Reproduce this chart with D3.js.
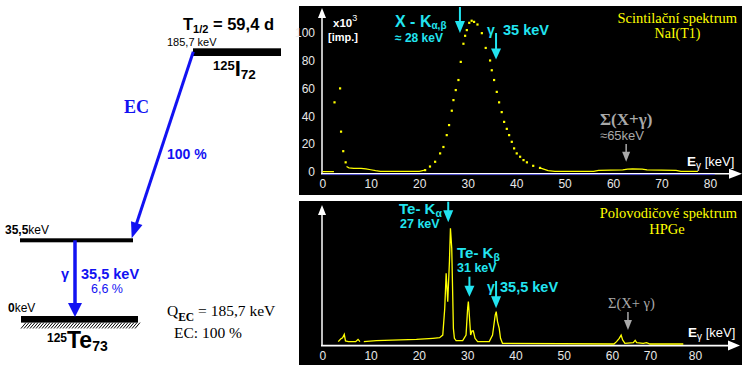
<!DOCTYPE html>
<html>
<head>
<meta charset="utf-8">
<script src="https://cdn.jsdelivr.net/npm/d3@7"></script>
<style>
  body { margin: 0; background: #fff; }
  svg { display: block; }
</style>
</head>
<body>
<script>
// ---- data ----
const energyTicks = [0, 10, 20, 30, 40, 50, 60, 70, 80];
const naiTicksY = [0, 20, 40, 60, 80, 100];

// NaI(Tl) spectrum, single channels shown as dots (keV, counts x10^3)
const naiDotE = [2.5, 3.65, 3.85, 4.3, 4.8, 21.2, 22.2, 23.26, 24.29, 24.97, 25.66, 26.14, 26.7, 27.04, 27.52,
  28.07, 28.55, 29.1, 29.45, 29.8, 30.3, 30.8, 31.3, 32.0, 32.9, 33.7, 34.6, 34.95, 35.43, 35.98, 36.46, 37.0,
  37.5, 38.05, 38.53, 39.08, 39.56, 40.1, 40.8, 41.5, 42.2, 43.5, 44.9];
const naiDotV = [50, 60, 29, 15, 7, 1.4, 4, 7.4, 13.4, 18, 26.5, 33.7, 44, 51.6, 58.8,
  66, 79, 92, 97.7, 101.8, 107, 108.5, 107.7, 105.8, 99.6, 89, 80, 73, 66, 57.5, 50, 43,
  36, 31, 26.5, 21.7, 17, 13.4, 11, 8.6, 7, 4.5, 3];
// NaI(Tl) spectrum, low parts that merge into a line
const naiLineE = [0, 2.4, null, 5.0, 5.5, 6.5, 8, 9, 10, 11, 12, 20, 21.2, null,
  44.9, 46.6, 48, 56, 57, 62, 63, 64, 66, 67, 73, 74, 77.5];
const naiLineV = [0.3, 0.3, null, 4, 3, 2.6, 2.6, 2.2, 1.6, 1, 0.5, 0.5, 1.4, null,
  3, 1, 0.5, 0.5, 1.2, 1.5, 2, 2.2, 2, 1.5, 1.2, 0.5, 0.5];

// HPGe spectrum (keV, relative counts)
const hpgeE = [3.3, 3.8, 4.2, 4.55, 4.8, 5.4, 6.9, 7.4, 7.8, null, 8.6, 11.2, 19.5, 22.9, 24.3,
  24.95, 25.36, 25.65, 25.98, 26.33, 26.54, 26.81, 27.01, 27.15, 27.36, 27.71, 29.08, 29.77, 30.1, 30.25,
  30.45, 30.72, 31.0, 31.28, 31.63, 32.17, 34.58, 35.26, 35.81, 36.02, 36.29, 36.64, 36.91, 37.32, 60.5,
  61.2, 61.9, 62.4, 62.8, 63.4, 65.6, 66.1, 66.5, 68.2, 69.1, 70, 77.4];
const hpgeV = [2.4, 4.3, 5.2, 7.6, 2.9, 2.4, 2.4, 4.0, 2.4, null, 2.4, 3.1, 4.0, 4.8, 5.2,
  7.1, 26.2, 51.2, 31, 59.5, 83.3, 69, 35.7, 11.9, 4.8, 3.1, 3.1, 7.1, 26.2, 31,
  21.4, 7.1, 10, 10, 4.8, 2.4, 2.4, 7.1, 21.4, 23.8, 16.7, 11.9, 4.8, 1.2, 0.7,
  2.4, 4.8, 7.1, 3.6, 1.2, 1.7, 3.3, 1.7, 1.2, 1.7, 0.7, 0.7];

// decay scheme levels (keV)
const levelE = [185.7, 35.5, 0];
const levelLabel = ["185,7 keV", "35,5", "0"];

// peak markers (keV)
const naiMarks = [28.4, 35.85];
const naiSumMark = 62.7;
const hpgeMarks = [26.08, 30.47, 35.99];
const hpgeSumMark = 64.2;

// ---- setup ----
const SANS = "'Liberation Sans', Arial, sans-serif";
const NARROW = "'Liberation Sans Narrow', 'Liberation Sans', Arial, sans-serif";
const SERIF = "'Liberation Serif', 'Times New Roman', serif";
const CYAN = "#22e4f0", BLUE = "#1212f2", YEL = "#ffff00", GREY = "#a9a9a9";

const svg = d3.select("body").append("svg")
    .attr("width", 746)
    .attr("height", 370);

// rich text helper: parts are tspans with optional size / weight / baseline shift
function label(parent, x, y, parts, o) {
  const t = parent.append("text")
    .attr("x", x).attr("y", y)
    .attr("fill", o.fill || "#000")
    .attr("font-family", o.family || SANS)
    .attr("font-weight", o.weight || "normal")
    .attr("font-size", o.size)
    .attr("text-anchor", o.anchor || "start");
  let shift = 0;
  parts.forEach(p => {
    const s = t.append("tspan").text(p.t);
    const d = p.dy || 0;
    s.attr("dy", d - shift); shift = d;
    if (p.size) s.attr("font-size", p.size);
    if (p.weight) s.attr("font-weight", p.weight);
    if (p.family) s.attr("font-family", p.family);
  });
  return t;
}

function arrow(parent, x1, y1, x2, y2, color, lw, headL, headW) {
  const dx = x2 - x1, dy = y2 - y1, L = Math.hypot(dx, dy), ux = dx / L, uy = dy / L;
  const bx = x2 - ux * headL, by = y2 - uy * headL;
  parent.append("line")
    .attr("x1", x1).attr("y1", y1).attr("x2", bx + ux).attr("y2", by + uy)
    .attr("stroke", color).attr("stroke-width", lw);
  parent.append("path")
    .attr("d", `M${x2},${y2}L${bx - uy * headW / 2},${by + ux * headW / 2}L${bx + uy * headW / 2},${by - ux * headW / 2}Z`)
    .attr("fill", color);
}

// ---- decay scheme ----
const yLevel = d3.scaleLinear().domain([0, 35.5, 185.7]).range([316, 238.3, 48.3]);
const scheme = svg.append("g");

// levels
scheme.append("rect").attr("x", 193).attr("y", yLevel(levelE[0])).attr("width", 88).attr("height", 7.7).attr("fill", "#000");
scheme.append("rect").attr("x", 20).attr("y", yLevel(levelE[1])).attr("width", 113).attr("height", 4).attr("fill", "#000");
scheme.append("rect").attr("x", 21).attr("y", yLevel(levelE[2])).attr("width", 117).attr("height", 6.6).attr("fill", "#000");
// hatching under ground state
scheme.append("g").selectAll("line")
  .data(d3.range(21, 138, 3))
  .join("line")
    .attr("x1", d => d).attr("y1", yLevel(0) + 12.5)
    .attr("x2", d => d + 5).attr("y2", yLevel(0) + 6.6)
    .attr("stroke", "#000").attr("stroke-width", 1);

label(scheme, 183, 30, [{ t: "T" }, { t: "1/2", size: 11, dy: 3 }, { t: " = 59,4 d" }], { weight: "bold", size: 16.5 });
label(scheme, 167, yLevel(levelE[0]) - 2.5, [{ t: levelLabel[0] }], { size: 11 });
label(scheme, 213, 76, [{ t: "125", size: 13, dy: -6 }, { t: "I", size: 22 }, { t: "72", size: 13.5, dy: 3 }], { weight: "bold", size: 22 });

label(scheme, 5, yLevel(levelE[1]) - 4, [{ t: levelLabel[1], weight: "bold" }, { t: "keV" }], { size: 12 });
label(scheme, 8, yLevel(levelE[2]) - 4.5, [{ t: levelLabel[2], weight: "bold" }, { t: "keV" }], { size: 12 });
label(scheme, 47, 348, [{ t: "125", size: 12, dy: -6.5 }, { t: "Te", size: 23 }, { t: "73", size: 14, dy: 3 }], { weight: "bold", size: 23 });

// EC branch
arrow(scheme, 193.3, yLevel(185.7) + 3.4, 131.7, yLevel(35.5), BLUE, 3, 16, 12);
label(scheme, 124, 113, [{ t: "EC" }], { fill: BLUE, family: SERIF, weight: "bold", size: 18 });
label(scheme, 167, 159, [{ t: "100 %" }], { fill: BLUE, weight: "bold", size: 14 });

// gamma transition
arrow(scheme, 75, yLevel(35.5) + 2, 75, yLevel(0) + 1, BLUE, 3.5, 14, 14);
label(scheme, 61, 279, [{ t: "γ" }], { fill: BLUE, weight: "bold", size: 14.5 });
label(scheme, 81, 279, [{ t: "35,5 keV" }], { fill: BLUE, weight: "bold", size: 14.5 });
label(scheme, 91, 293, [{ t: "6,6 %" }], { fill: BLUE, size: 12.5 });

label(scheme, 167, 316, [{ t: "Q" }, { t: "EC", size: 11.5, weight: "bold", dy: 4.5 }, { t: " = 185,7 keV" }], { family: SERIF, size: 15.5 });
label(scheme, 174, 338, [{ t: "EC: 100 %" }], { family: SERIF, size: 15.5 });

// ---- panels ----
svg.append("rect").attr("x", 299).attr("y", 6).attr("width", 443).attr("height", 189).attr("fill", "#000");
svg.append("rect").attr("x", 299).attr("y", 201).attr("width", 443).attr("height", 164).attr("fill", "#000");

function styleAxis(g) {
  g.select("path.domain").remove();
  g.selectAll("text")
    .attr("fill", "#e8e8e8")
    .attr("font-family", NARROW)
    .attr("font-size", 12);
}

// ---- NaI(Tl) panel ----
const xTop = d3.scaleLinear().domain([0, 80]).range([322.3, 710]);
const yTop = d3.scaleLinear().domain([0, 100]).range([172, 32.5]);
const naiPanel = svg.append("g");

naiPanel.append("g")
    .attr("transform", "translate(0,174)")
    .call(d3.axisBottom(xTop).tickValues(energyTicks).tickSize(0).tickPadding(5))
    .call(styleAxis);
naiPanel.append("g")
    .attr("transform", "translate(322,0)")
    .call(d3.axisLeft(yTop).tickValues(naiTicksY).tickSize(0).tickPadding(7))
    .call(styleAxis);

// axis lines with arrow heads
arrow(naiPanel, 322, 174, 322, 8, "#fff", 1.5, 10, 8);
arrow(naiPanel, 321, 173.8, 742, 173.8, "#fff", 1.6, 13, 10);
naiPanel.append("line")
    .attr("x1", xTop(0)).attr("x2", xTop(81)).attr("y1", 174.6).attr("y2", 174.6)
    .attr("stroke", "#4a4ad0").attr("stroke-width", 1);

const naiLine = d3.line()
    .defined((d, i) => naiLineE[i] !== null)
    .x((d, i) => xTop(naiLineE[i]))
    .y((d, i) => yTop(naiLineV[i]));
naiPanel.append("path")
    .attr("d", naiLine(naiLineE))
    .attr("fill", "none")
    .attr("stroke", YEL)
    .attr("stroke-width", 1.2);
naiPanel.append("g").selectAll("rect")
  .data(naiDotE)
  .join("rect")
    .attr("x", d => xTop(d) - 1)
    .attr("y", (d, i) => yTop(naiDotV[i]) - 1)
    .attr("width", 2.2)
    .attr("height", 2.2)
    .attr("fill", YEL);

label(naiPanel, 333, 27.3, [{ t: "x10" }, { t: "3", size: 9, weight: "normal", dy: -6 }], { fill: "#fff", weight: "bold", size: 11.5 });
label(naiPanel, 328, 41, [{ t: "[imp.]" }], { fill: "#fff", weight: "bold", size: 11 });

label(naiPanel, 395, 26.7, [{ t: "X - K" }, { t: "α,β", size: 10, dy: 2.5 }], { fill: CYAN, weight: "bold", size: 16 });
label(naiPanel, 395, 41.7, [{ t: "≈ 28 keV" }], { fill: CYAN, weight: "bold", size: 12 });
arrow(naiPanel, xTop(naiMarks[0]), 7, xTop(naiMarks[0]), 33, CYAN, 2, 12, 10);
label(naiPanel, 487, 35, [{ t: "γ" }], { fill: CYAN, weight: "bold", size: 14 });
label(naiPanel, 503, 35, [{ t: "35 keV" }], { fill: CYAN, weight: "bold", size: 14.5 });
arrow(naiPanel, xTop(naiMarks[1]), 33, xTop(naiMarks[1]), 59.5, CYAN, 2, 11, 10);

label(naiPanel, 737, 23, [{ t: "Scintilační spektrum" }], { fill: YEL, family: SERIF, size: 14.5, anchor: "end" });
label(naiPanel, 677.5, 37.5, [{ t: "NaI(T1)" }], { fill: YEL, family: SERIF, size: 14, anchor: "middle" });

label(naiPanel, 600, 125, [{ t: "Σ(X+γ)" }], { fill: GREY, family: SERIF, weight: "bold", size: 17 });
label(naiPanel, 600, 140, [{ t: "≈65keV" }], { fill: GREY, size: 13 });
arrow(naiPanel, xTop(naiSumMark), 144, xTop(naiSumMark), 161.7, GREY, 1.5, 10, 8);

label(naiPanel, 687, 166, [{ t: "E", weight: "bold", size: 13.5 }, { t: "γ", size: 10, dy: 3 }, { t: " [keV]", size: 13 }], { fill: "#fff", size: 13 });

// ---- HPGe panel ----
const xBot = d3.scaleLinear().domain([0, 60, 70, 80]).range([322.3, 612, 650, 695]);
const yBot = d3.scaleLinear().domain([0, 100]).range([345, 205]);
const hpgePanel = svg.append("g");

hpgePanel.append("g")
    .attr("transform", "translate(0,346)")
    .call(d3.axisBottom(xBot).tickValues(energyTicks).tickSize(0).tickPadding(5))
    .call(styleAxis);
arrow(hpgePanel, 322, 346, 322, 205, "#fff", 1.5, 10, 8);
arrow(hpgePanel, 321, 345.6, 740, 345.6, "#fff", 1.6, 12, 10);

const hpgeLine = d3.line()
    .defined((d, i) => hpgeE[i] !== null)
    .x((d, i) => xBot(hpgeE[i]))
    .y((d, i) => yBot(hpgeV[i]));
hpgePanel.append("path")
    .attr("d", hpgeLine(hpgeE))
    .attr("fill", "none")
    .attr("stroke", YEL)
    .attr("stroke-width", 1.3);

label(hpgePanel, 737, 217.5, [{ t: "Polovodičové spektrum" }], { fill: YEL, family: SERIF, size: 14.5, anchor: "end" });
label(hpgePanel, 667, 233.5, [{ t: "HPGe" }], { fill: YEL, family: SERIF, size: 14.5, anchor: "middle" });

label(hpgePanel, 399, 214, [{ t: "Te- K" }, { t: "α", size: 10.5, dy: 2.5 }], { fill: CYAN, weight: "bold", size: 15 });
label(hpgePanel, 400, 227.7, [{ t: "27 keV" }], { fill: CYAN, weight: "bold", size: 12.5 });
arrow(hpgePanel, xBot(hpgeMarks[0]), 201.7, xBot(hpgeMarks[0]), 222.3, CYAN, 2, 12, 10);

label(hpgePanel, 457, 258, [{ t: "Te- K" }, { t: "β", size: 10.5, dy: 2.5 }], { fill: CYAN, weight: "bold", size: 15 });
label(hpgePanel, 457, 271.7, [{ t: "31 keV" }], { fill: CYAN, weight: "bold", size: 12.5 });
arrow(hpgePanel, xBot(hpgeMarks[1]), 276.7, xBot(hpgeMarks[1]), 296.7, CYAN, 2, 11, 10);

label(hpgePanel, 487, 292, [{ t: "γ" }], { fill: CYAN, weight: "bold", size: 14 });
label(hpgePanel, 500, 292, [{ t: "35,5 keV" }], { fill: CYAN, weight: "bold", size: 14.5 });
arrow(hpgePanel, xBot(hpgeMarks[2]), 281, xBot(hpgeMarks[2]), 308.3, CYAN, 2, 12, 10);

label(hpgePanel, 608, 308, [{ t: "Σ(X+ γ)" }], { fill: GREY, family: SERIF, size: 14.5 });
arrow(hpgePanel, xBot(hpgeSumMark), 312, xBot(hpgeSumMark), 330, GREY, 1.5, 10, 8);

label(hpgePanel, 688, 337, [{ t: "E", weight: "bold", size: 13.5 }, { t: "γ", size: 10, dy: 3 }, { t: " [keV]", size: 13 }], { fill: "#fff", size: 13 });
</script>
</body>
</html>
